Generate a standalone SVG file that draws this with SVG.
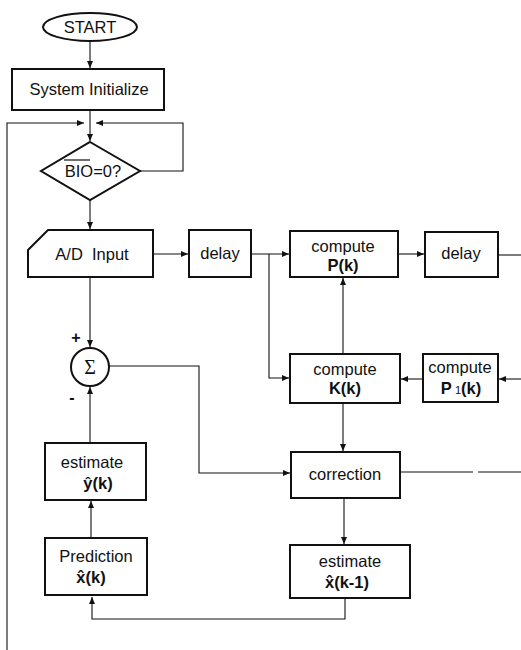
<svg xmlns="http://www.w3.org/2000/svg" width="521" height="650" viewBox="0 0 521 650">
<style>
.box{fill:#fff;stroke:#111;stroke-width:2}
.c{fill:none;stroke:#111;stroke-width:1.1}
text{font-family:"Liberation Sans",Arial,sans-serif;font-size:16.5px;fill:#111;text-anchor:middle}
.b{font-weight:bold}
</style>
<defs>
<marker id="a" markerUnits="userSpaceOnUse" markerWidth="8" markerHeight="8" refX="7" refY="4" orient="auto">
<path d="M0,1 L7,4 L0,7 Z" fill="#111"/>
</marker>
</defs>
<rect width="521" height="650" fill="#fff"/>
<g id="connectors">
<line class="c" x1="90" y1="41" x2="90" y2="68" marker-end="url(#a)"/>
<line class="c" x1="90" y1="110" x2="90" y2="141" marker-end="url(#a)"/>
<polyline class="c" points="7,650 7,123 84,123" marker-end="url(#a)"/>
<polyline class="c" points="140,171 183,171 183,123 96,123" marker-end="url(#a)"/>
<line class="c" x1="90" y1="200" x2="90" y2="229" marker-end="url(#a)"/>
<line class="c" x1="153" y1="254" x2="188" y2="254" marker-end="url(#a)"/>
<line class="c" x1="251" y1="254" x2="289" y2="254" marker-end="url(#a)"/>
<polyline class="c" points="269,254 269,378 289,378" marker-end="url(#a)"/>
<line class="c" x1="398" y1="254" x2="424" y2="254" marker-end="url(#a)"/>
<line class="c" x1="498" y1="255" x2="521" y2="255"/>
<line class="c" x1="521" y1="379" x2="499" y2="379" marker-end="url(#a)"/>
<line class="c" x1="423" y1="379" x2="401" y2="379" marker-end="url(#a)"/>
<line class="c" x1="343" y1="354" x2="343" y2="278" marker-end="url(#a)"/>
<line class="c" x1="343" y1="403" x2="343" y2="451" marker-end="url(#a)"/>
<line class="c" x1="400" y1="472" x2="473" y2="472"/>
<line class="c" x1="478" y1="472" x2="521" y2="472"/>
<line class="c" x1="344" y1="498" x2="344" y2="544" marker-end="url(#a)"/>
<polyline class="c" points="345,598 345,619 92,619 92,597" marker-end="url(#a)"/>
<line class="c" x1="91" y1="538" x2="91" y2="501" marker-end="url(#a)"/>
<line class="c" x1="90" y1="443" x2="90" y2="387" marker-end="url(#a)"/>
<line class="c" x1="90" y1="277" x2="90" y2="347" marker-end="url(#a)"/>
<polyline class="c" points="109,366 199,366 199,473 290,473" marker-end="url(#a)"/>
</g>
<g id="start">
<ellipse class="box" cx="90" cy="27" rx="47" ry="14"/>
<text x="90" y="33">START</text>
</g>
<g id="init">
<rect class="box" x="12" y="69" width="152" height="41"/>
<text x="89" y="95">System Initialize</text>
</g>
<g id="decision">
<polygon class="box" points="90,142 140,171 90,200 41,171"/>
<text x="93" y="177">BIO=0?</text>
<line x1="64" y1="160" x2="90" y2="160" stroke="#111" stroke-width="1.2"/>
</g>
<g id="adinput">
<path class="box" d="M28,250 L48,230 L153,230 L153,277 L28,277 Z"/>
<text x="92" y="260" xml:space="preserve">A/D  Input</text>
</g>
<g id="delay1">
<rect class="box" x="189" y="230" width="62" height="47"/>
<text x="220" y="259">delay</text>
</g>
<g id="computeP">
<rect class="box" x="290" y="231" width="108" height="46"/>
<text x="343" y="252">compute</text>
<text class="b" x="343" y="271">P(k)</text>
</g>
<g id="delay2">
<rect class="box" x="425" y="232" width="73" height="45"/>
<text x="461" y="259">delay</text>
</g>
<g id="computeK">
<rect class="box" x="290" y="354" width="110" height="49"/>
<text x="345" y="375">compute</text>
<text class="b" x="345" y="394">K(k)</text>
</g>
<g id="computeP1">
<rect class="box" x="423" y="354" width="75" height="48"/>
<text x="460" y="373">compute</text>
<text class="b" x="461" y="394">P<tspan font-size="11" font-weight="normal"> 1</tspan>(k)</text>
</g>
<g id="sum">
<circle class="box" cx="90" cy="367" r="19"/>
<text x="90" y="374" style="font-size:20px;font-family:'Liberation Serif',serif">Σ</text>
<text x="76" y="343" style="font-size:16px;font-weight:bold">+</text>
<text x="72" y="403" style="font-size:16px;font-weight:bold">-</text>
</g>
<g id="correction">
<rect class="box" x="291" y="452" width="109" height="46"/>
<text x="345" y="480">correction</text>
</g>
<g id="estimateY">
<rect class="box" x="45" y="443" width="101" height="57"/>
<text x="92" y="468">estimate</text>
<text class="b" x="98" y="489">ŷ(k)</text>
</g>
<g id="prediction">
<rect class="box" x="45" y="538" width="102" height="57"/>
<text x="96" y="562">Prediction</text>
<text class="b" x="91" y="583">x̂(k)</text>
</g>
<g id="estimateX">
<rect class="box" x="290" y="545" width="120" height="53"/>
<text x="350" y="567">estimate</text>
<text class="b" x="347" y="588">x̂(k-1)</text>
</g>
</svg>
